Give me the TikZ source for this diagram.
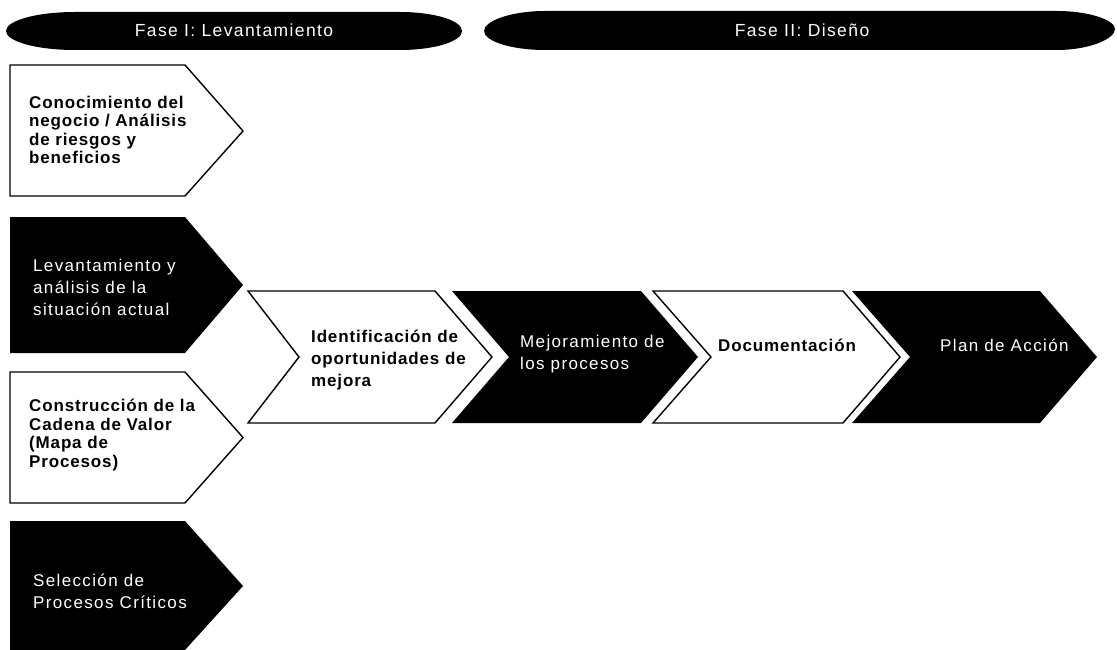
\documentclass[tikz,border=0pt]{standalone}
\usepackage{fontspec}
\setmainfont{Liberation Sans}[LetterSpace=8]
\begin{document}
\begin{tikzpicture}[x=1pt,y=-1pt,
  darkshape/.style={fill=black},
  lightshape/.style={draw=black, fill=white, line width=1.4pt, line join=miter},
  lighttext/.style={font=\fontsize{17}{18.5}\selectfont\bfseries\addfontfeatures{LetterSpace=5}, text=black, align=left, anchor=west, inner sep=0pt},
  darktext/.style={font=\fontsize{17}{22}\selectfont, text=white, align=left, anchor=west, inner sep=0pt},
  bartext/.style={font=\fontsize{17.5}{20}\selectfont, text=white, inner sep=0pt}]
\useasboundingbox (0,0) rectangle (1117,650);

% phase banners
\fill (75,12) -- (400,12)
  .. controls (434.2,12) and (462,20.5) .. (462,31)
  .. controls (462,41.5) and (434.2,50) .. (400,50)
  -- (75,50)
  .. controls (36.9,50) and (6,41.5) .. (6,31)
  .. controls (6,20.5) and (36.9,12) .. (75,12) -- cycle;
\fill (545,11) -- (1057,11)
  .. controls (1089,11) and (1115,20) .. (1115,29)
  .. controls (1115,39) and (1089,50) .. (1057,50)
  -- (545,50)
  .. controls (511,50) and (484,41) .. (484,31)
  .. controls (484,21) and (511,11) .. (545,11) -- cycle;
\node[bartext] (phase1) at (234,30) {Fase I: Levantamiento};
\node[bartext] (phase2) at (802,30) {Fase II: Diseño};

% left column: pentagon steps
\draw[lightshape] (10,65) -- (185,65) -- (243,131) -- (185,196) -- (10,196) -- cycle;
\fill[darkshape] (10,217) -- (185,217) -- (243,285) -- (185,353) -- (10,353) -- cycle;
\draw[lightshape] (10,372) -- (185,372) -- (243,437.5) -- (185,503) -- (10,503) -- cycle;
\fill[darkshape] (10,521) -- (185,521) -- (243,586) -- (185,650) -- (10,650) -- cycle;

\node[lighttext] (s1) at (29,130) {Conocimiento del\\negocio / Análisis\\de riesgos y\\beneficios};
\node[darktext] (s2) at (33,287) {Levantamiento y\\análisis de la\\situación actual};
\node[lighttext] (s3) at (29,435) {Construcción de la\\Cadena de Valor\\(Mapa de\\Procesos)};
\node[darktext] (s4) at (33,591) {Selección de\\Procesos Críticos};

% middle row: chevrons
\draw[lightshape] (248,291) -- (435,291) -- (492,357) -- (435,423) -- (248,423) -- (299,357) -- cycle;
\fill[darkshape] (452,291) -- (641,291) -- (698,357) -- (641,423) -- (452,423) -- (509,357) -- cycle;
\draw[lightshape] (653,291) -- (843,291) -- (900,357) -- (843,423) -- (653,423) -- (711,357) -- cycle;
\fill[darkshape] (852,291) -- (1040,291) -- (1097,357) -- (1040,423) -- (852,423) -- (910,357) -- cycle;

\node[lighttext, font=\fontsize{17}{22}\selectfont\bfseries\addfontfeatures{LetterSpace=5}] (m1) at (311,360) {Identificación de\\oportunidades de\\mejora};
\node[darktext] (m2) at (520,354) {Mejoramiento de\\los procesos};
\node[lighttext] (m3) at (718,345) {Documentación};
\node[darktext] (m4) at (940,345) {Plan de Acción};
\end{tikzpicture}
\end{document}
